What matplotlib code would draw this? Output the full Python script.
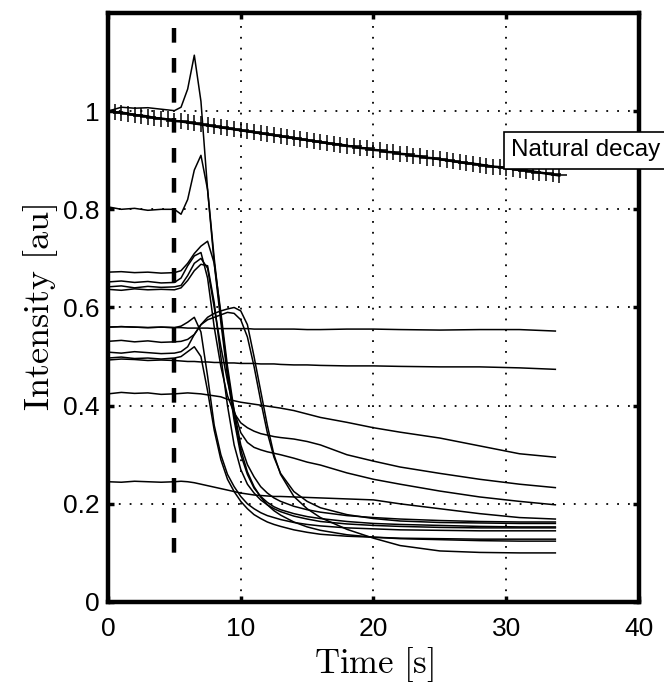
import numpy as np
import matplotlib as mpl
import matplotlib.pyplot as plt

mpl.use("Agg")
plt.rcParams['font.family'] = ['Liberation Sans', 'DejaVu Sans']
plt.rcParams['mathtext.fontset'] = 'cm'

# sample times of the measured traces [s]
t_s = [0, 1, 2, 3, 4, 5, 5.5, 6, 6.5, 7, 7.5, 8, 8.5, 9, 9.5, 10, 10.5, 11, 11.5, 12,
       12.5, 13, 14, 15, 16, 18, 20, 22, 25, 28, 31, 33.7]

trace_a = [1.000, 1.008, 1.006, 1.007, 1.004, 1.001, 1.008, 1.045, 1.114, 1.020, 0.840,
           0.690, 0.570, 0.460, 0.370, 0.300, 0.260, 0.232, 0.215, 0.203, 0.194,
           0.188, 0.180, 0.174, 0.170, 0.164, 0.160, 0.158, 0.156, 0.154, 0.153, 0.153]
trace_b = [0.805, 0.800, 0.802, 0.798, 0.800, 0.800, 0.790, 0.820, 0.880, 0.910, 0.840,
           0.700, 0.580, 0.470, 0.380, 0.310, 0.265, 0.235, 0.214, 0.198, 0.186,
           0.177, 0.163, 0.153, 0.146, 0.137, 0.132, 0.129, 0.127, 0.125, 0.124, 0.124]
trace_c = [0.672, 0.673, 0.671, 0.672, 0.670, 0.671, 0.675, 0.690, 0.710, 0.725, 0.735,
           0.690, 0.590, 0.480, 0.390, 0.320, 0.280, 0.255, 0.235, 0.222, 0.212,
           0.205, 0.195, 0.188, 0.183, 0.176, 0.172, 0.169, 0.166, 0.164, 0.163, 0.163]
trace_d = [0.652, 0.654, 0.651, 0.653, 0.650, 0.651, 0.660, 0.685, 0.705, 0.712, 0.660,
           0.560, 0.480, 0.420, 0.385, 0.365, 0.355, 0.348, 0.343, 0.340, 0.337,
           0.335, 0.332, 0.327, 0.320, 0.300, 0.287, 0.275, 0.262, 0.250, 0.240, 0.233]
trace_e = [0.642, 0.644, 0.640, 0.643, 0.641, 0.642, 0.645, 0.665, 0.690, 0.700, 0.680,
           0.600, 0.520, 0.450, 0.390, 0.345, 0.325, 0.315, 0.310, 0.306, 0.303,
           0.300, 0.293, 0.285, 0.279, 0.263, 0.250, 0.240, 0.226, 0.214, 0.205, 0.198]
trace_f = [0.637, 0.635, 0.638, 0.636, 0.637, 0.636, 0.640, 0.655, 0.675, 0.688, 0.685,
           0.610, 0.500, 0.400, 0.320, 0.270, 0.240, 0.222, 0.208, 0.198, 0.190,
           0.184, 0.175, 0.169, 0.164, 0.159, 0.156, 0.154, 0.152, 0.151, 0.151, 0.151]
trace_g = [0.560, 0.561, 0.560, 0.559, 0.560, 0.559, 0.559, 0.558, 0.558, 0.558, 0.558,
           0.557, 0.557, 0.557, 0.557, 0.557, 0.557, 0.556, 0.556, 0.556, 0.556,
           0.556, 0.556, 0.555, 0.555, 0.556, 0.556, 0.555, 0.554, 0.555, 0.555, 0.552]
trace_h = [0.560, 0.561, 0.560, 0.559, 0.560, 0.559, 0.562, 0.570, 0.580, 0.550, 0.460,
           0.360, 0.300, 0.260, 0.235, 0.215, 0.200, 0.190, 0.182, 0.176, 0.172,
           0.168, 0.162, 0.158, 0.155, 0.151, 0.149, 0.147, 0.146, 0.145, 0.145, 0.145]
trace_i = [0.531, 0.533, 0.530, 0.532, 0.529, 0.530, 0.531, 0.535, 0.545, 0.565, 0.580,
           0.588, 0.593, 0.597, 0.600, 0.593, 0.565, 0.500, 0.430, 0.360, 0.300,
           0.260, 0.215, 0.190, 0.172, 0.148, 0.130, 0.115, 0.104, 0.101, 0.100, 0.100]
trace_j = [0.509, 0.507, 0.510, 0.508, 0.506, 0.507, 0.510, 0.520, 0.545, 0.565, 0.575,
           0.580, 0.585, 0.590, 0.588, 0.575, 0.540, 0.480, 0.410, 0.345, 0.295,
           0.262, 0.225, 0.205, 0.192, 0.178, 0.170, 0.165, 0.162, 0.161, 0.160, 0.160]
trace_k = [0.497, 0.499, 0.496, 0.497, 0.495, 0.497, 0.500, 0.510, 0.520, 0.500, 0.430,
           0.350, 0.290, 0.250, 0.225, 0.205, 0.190, 0.178, 0.170, 0.163, 0.158,
           0.154, 0.147, 0.142, 0.138, 0.134, 0.132, 0.130, 0.129, 0.128, 0.128, 0.128]
trace_l = [0.493, 0.495, 0.494, 0.492, 0.493, 0.492, 0.491, 0.490, 0.490, 0.489, 0.489,
           0.488, 0.488, 0.487, 0.487, 0.486, 0.486, 0.486, 0.485, 0.485, 0.485,
           0.484, 0.483, 0.483, 0.482, 0.481, 0.481, 0.480, 0.479, 0.479, 0.477, 0.474]
trace_m = [0.424, 0.427, 0.425, 0.426, 0.423, 0.424, 0.425, 0.426, 0.425, 0.424, 0.422,
           0.420, 0.418, 0.413, 0.410, 0.407, 0.405, 0.403, 0.401, 0.399, 0.397,
           0.395, 0.390, 0.383, 0.376, 0.366, 0.355, 0.346, 0.334, 0.318, 0.302, 0.295]
trace_n = [0.245, 0.244, 0.246, 0.245, 0.244, 0.245, 0.246, 0.245, 0.243, 0.240, 0.237,
           0.234, 0.231, 0.228, 0.225, 0.222, 0.220, 0.218, 0.217, 0.216, 0.215,
           0.215, 0.214, 0.213, 0.212, 0.210, 0.208, 0.200, 0.190, 0.180, 0.172, 0.169]

traces = [trace_a, trace_b, trace_c, trace_d, trace_e, trace_f, trace_g,
          trace_h, trace_i, trace_j, trace_k, trace_l, trace_m, trace_n]

# natural decay, sampled every 0.5 s
decay_t = np.arange(0, 34.5, 0.5)
decay_y = [1.000, 0.998, 0.997, 0.995, 0.992, 0.991, 0.989, 0.986, 0.985, 0.983,
           0.980, 0.979, 0.977, 0.975, 0.973, 0.971, 0.969, 0.967, 0.965, 0.963,
           0.961, 0.959, 0.957, 0.955, 0.953, 0.951, 0.949, 0.947, 0.945, 0.943,
           0.941, 0.939, 0.937, 0.935, 0.933, 0.932, 0.929, 0.928, 0.925, 0.924,
           0.921, 0.920, 0.917, 0.916, 0.913, 0.912, 0.909, 0.908, 0.905, 0.904,
           0.902, 0.900, 0.898, 0.896, 0.894, 0.893, 0.891, 0.889, 0.887, 0.886,
           0.884, 0.882, 0.880, 0.879, 0.877, 0.875, 0.873, 0.871, 0.869]

stim_t = 5
stim_y = [1.17, 0.1]

fig = plt.figure(figsize=(6.64, 6.83), dpi=100)
ax = fig.add_axes([0.1627, 0.1186, 0.7996, 0.8624])

for tr in traces:
    ax.plot(t_s, tr, color='black', linewidth=1.1)

ax.plot(decay_t, decay_y, color='black', linewidth=1.8, marker='+',
        markersize=11, markeredgewidth=1.1)

ax.plot([stim_t, stim_t], stim_y, color='black', linewidth=3.2,
        linestyle=(0, (3.3, 3.45)))

ax.text(30.35, 0.92, 'Natural decay', fontsize=17.5, va='center', ha='left',
        bbox=dict(boxstyle='square,pad=0.3', fc='white', ec='black', lw=1.2),
        clip_on=False, zorder=5)

ax.set_xlim(0, 40)
ax.set_ylim(0, 1.2)
ax.set_xticks([0, 10, 20, 30, 40])
ax.set_yticks([0, 0.2, 0.4, 0.6, 0.8, 1.0])
ax.set_yticklabels(['0', '0.2', '0.4', '0.6', '0.8', '1'])
ax.grid(True, color='black', linestyle=(0, (1, 5)), linewidth=1.3)
ax.tick_params(direction='in', length=4, width=2.5, top=True, right=True,
               labelsize=19)
ax.tick_params(axis='x', pad=11)
ax.tick_params(axis='y', pad=6)
for sp in ax.spines.values():
    sp.set_linewidth(3.2)

ax.set_xlabel(r'$\mathrm{Time\ [s]}$', fontsize=25, labelpad=3)
ax.set_ylabel(r'$\mathrm{Intensity\ [au]}$', fontsize=26, labelpad=2)

fig.savefig('out.png', dpi=100)
